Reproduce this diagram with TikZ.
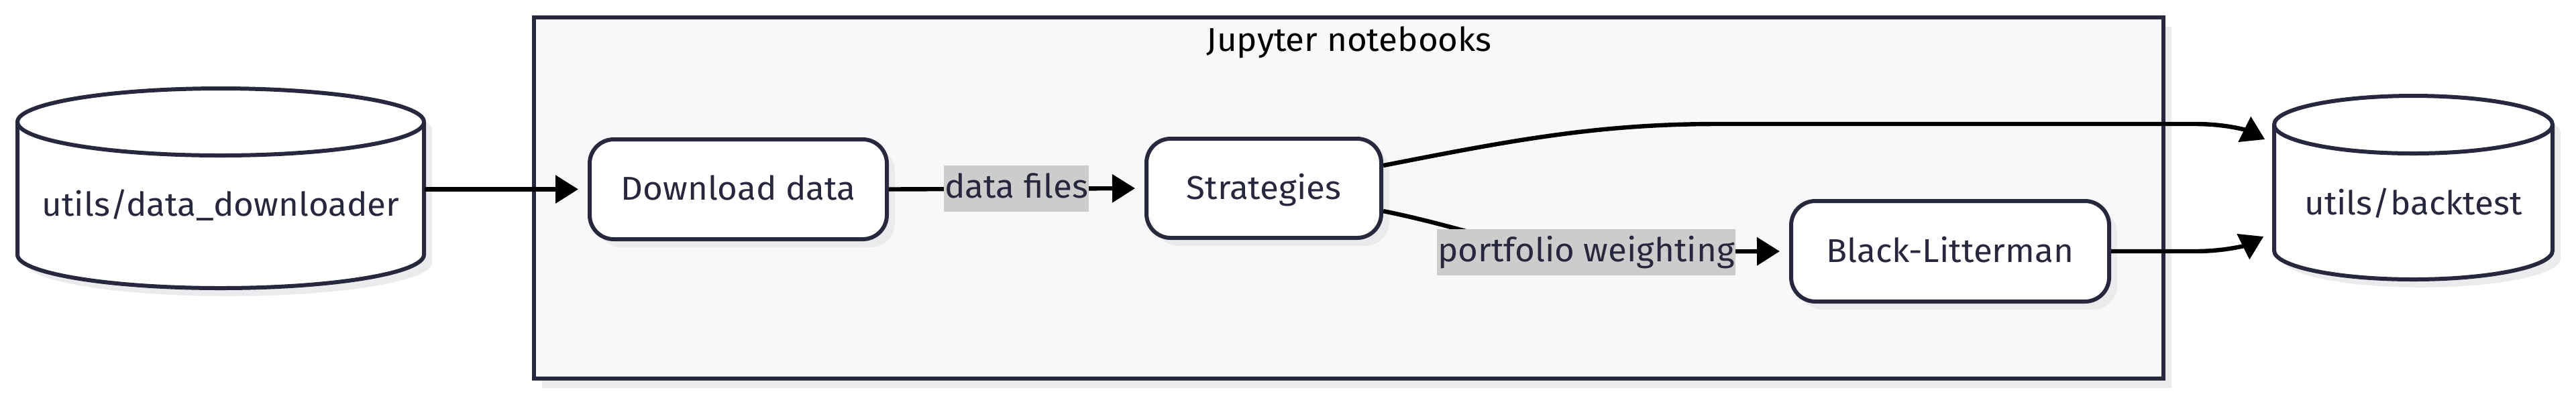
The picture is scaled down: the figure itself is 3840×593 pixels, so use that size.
\documentclass[tikz,border=0pt]{standalone}
\usepackage{fontspec}
\setmainfont{Fira Sans}[FakeStretch=1.04]
\usetikzlibrary{arrows.meta,shadows,calc}
\definecolor{nodeborder}{HTML}{27273D}
\definecolor{nodetext}{HTML}{27273D}
\definecolor{clusterfill}{HTML}{F8F8FA}
\definecolor{shadowgray}{HTML}{EBEBEE}
\definecolor{labelgray}{HTML}{CCCCCC}
\begin{document}
\begin{tikzpicture}[x=0.25pt,y=-0.25pt,
  every node/.style={font=\fontsize{12.3pt}{14pt}\selectfont, text=nodetext},
  boxshadow/.style={drop shadow={shadow xshift=3pt, shadow yshift=-3pt, fill=shadowgray, opacity=1}},
  procbox/.style={draw=nodeborder, line width=1.5pt, fill=white, rounded corners=9pt, inner sep=0pt,
    text height=10.5pt, text depth=2.5pt, boxshadow},
  edgelabel/.style={fill=labelgray, inner xsep=0.3pt, inner ysep=0pt, minimum height=17.25pt,
    text height=10pt, text depth=3pt},
  flow/.style={draw=black, line width=1.6pt, -{Triangle[length=8.5pt,width=10.25pt]}, shorten >=3.5pt},
  flowexact/.style={flow, shorten >=0pt},
  cylline/.style={draw=nodeborder, line width=1.5pt, fill=white},
]
\useasboundingbox (0,0) rectangle (3840,593);

% cluster
\node[draw=nodeborder, line width=1.5pt, fill=clusterfill, inner sep=0pt,
      minimum width=607.25pt, minimum height=134.75pt,
      drop shadow={shadow xshift=3pt, shadow yshift=-3.5pt, fill=shadowgray, opacity=1}]
      (nb) at (2010.5,295.5) {};
\node[anchor=base, text=black] (title) at (2011,76) {Jupyter notebooks};

% left cylinder
\fill[shadowgray, shift={(12,12)}] (26,182) -- (26,380) .. controls (26,407.6) and (161.7,430) .. (329,430) .. controls (496.3,430) and (632,407.6) .. (632,380) -- (632,182) .. controls (632,154.4) and (496.3,132) .. (329,132) .. controls (161.7,132) and (26,154.4) .. (26,182) -- cycle;
\path[cylline] (26,182) -- (26,380) .. controls (26,407.6) and (161.7,430) .. (329,430) .. controls (496.3,430) and (632,407.6) .. (632,380) -- (632,182) .. controls (632,154.4) and (496.3,132) .. (329,132) .. controls (161.7,132) and (26,154.4) .. (26,182) -- cycle;
\draw[nodeborder, line width=1.5pt] (26,182) .. controls (26,209.6) and (161.7,232) .. (329,232) .. controls (496.3,232) and (632,209.6) .. (632,182);
\node[minimum width=151.5pt, minimum height=74.5pt, inner sep=0pt] (c1) at (329,281) {};
\node[anchor=base] (c1t) at (329,322) {utils/data\_downloader};

% right cylinder
\fill[shadowgray, shift={(12,12)}] (3390,186) -- (3390,374) .. controls (3390,397.7) and (3482.9,417) .. (3597.5,417) .. controls (3712.1,417) and (3805,397.7) .. (3805,374) -- (3805,186) .. controls (3805,162.3) and (3712.1,143) .. (3597.5,143) .. controls (3482.9,143) and (3390,162.3) .. (3390,186) -- cycle;
\path[cylline] (3390,186) -- (3390,374) .. controls (3390,397.7) and (3482.9,417) .. (3597.5,417) .. controls (3712.1,417) and (3805,397.7) .. (3805,374) -- (3805,186) .. controls (3805,162.3) and (3712.1,143) .. (3597.5,143) .. controls (3482.9,143) and (3390,162.3) .. (3390,186) -- cycle;
\draw[nodeborder, line width=1.5pt] (3390,186) .. controls (3390,209.7) and (3482.9,229) .. (3597.5,229) .. controls (3712.1,229) and (3805,209.7) .. (3805,186);
\node[minimum width=103.75pt, minimum height=68.5pt, inner sep=0pt] (c2) at (3597.5,280) {};
\node[anchor=base] (c2t) at (3597.5,320) {utils/backtest};

% process boxes
\node[procbox, minimum width=110.75pt, minimum height=37.25pt] (dd) at (1100.5,282.5) {Download data};
\node[procbox, minimum width=87.5pt, minimum height=37pt] (st) at (1884,281) {Strategies};
\node[procbox, minimum width=118.5pt, minimum height=37.5pt] (bl) at (2907,375) {Black-Litterman};

% connectors
\draw[flow] (c1.east |- dd.west) -- (dd.west);
\draw[flow] (dd.east) -- (st.west);
\draw[flowexact] ($(st.east)+(0,-34)$) .. controls (2250,210) and (2380,185) .. (2560,185) -- (3272,185) .. controls (3320,185) and (3350,195) .. ($(c2.west)+(-13,-72)$);
\draw[flow] ($(st.east)+(0,34)$) .. controls (2200,343) and (2260,376) .. (2364,376) -- (bl.west);
\draw[flowexact] (bl.east) -- (3272,375) .. controls (3320,375) and (3350,365) .. ($(c2.west)+(-15,73)$);

% edge labels
\node[edgelabel] (dfl) at (1515,281.5) {data files};
\node[edgelabel] (pwl) at (2364.5,376) {portfolio weighting};
\end{tikzpicture}
\end{document}
